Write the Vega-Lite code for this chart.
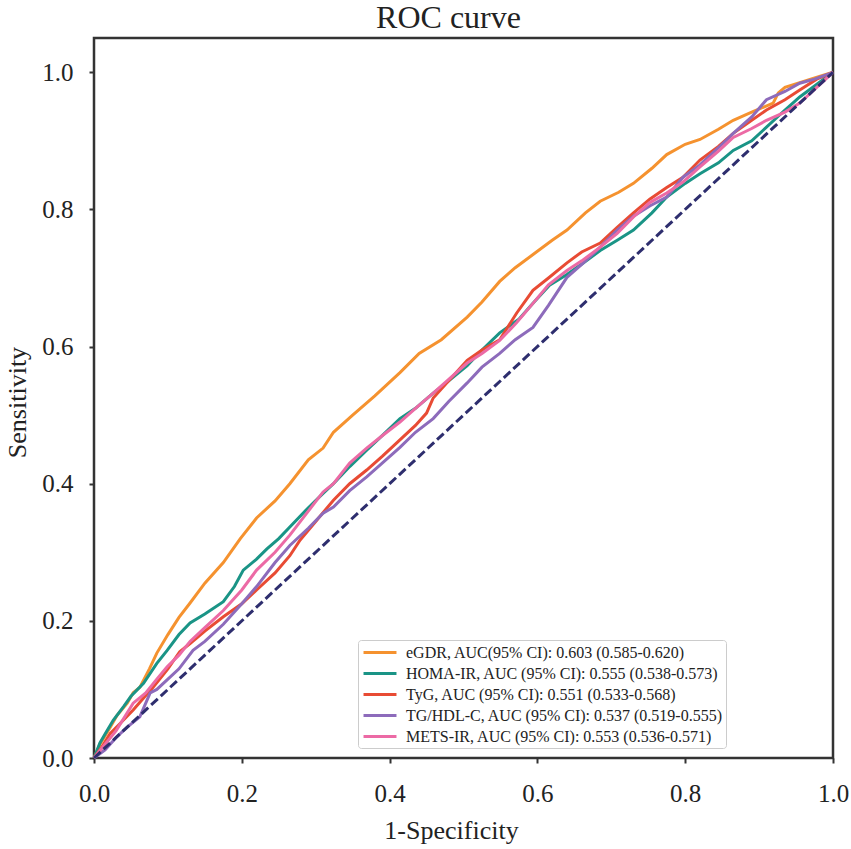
{
  "$schema": "https://vega.github.io/schema/vega-lite/v6.json",
  "autosize": {"type": "none"},
  "width": 739,
  "height": 720,
  "padding": {"left": 94, "top": 38, "right": 18, "bottom": 91},
  "background": "white",
  "title": {
    "text": "ROC curve",
    "font": "Liberation Serif",
    "fontSize": 32,
    "fontWeight": "normal",
    "color": "#222222",
    "anchor": "middle",
    "baseline": "top",
    "offset": 3,
    "dx": -15
  },
  "datasets": {
    "labels": [
      {"m": "eGDR", "label": "eGDR, AUC(95% CI): 0.603 (0.585-0.620)"},
      {"m": "HOMA-IR", "label": "HOMA-IR, AUC (95% CI): 0.555 (0.538-0.573)"},
      {"m": "TyG", "label": "TyG, AUC (95% CI): 0.551 (0.533-0.568)"},
      {"m": "TG/HDL-C", "label": "TG/HDL-C, AUC (95% CI): 0.537 (0.519-0.555)"},
      {"m": "METS-IR", "label": "METS-IR, AUC (95% CI): 0.553 (0.536-0.571)"}
    ],
    "roc": [
      {"m": "eGDR", "x": 0, "y": 0}, {"m": "eGDR", "x": 0.008, "y": 0.02}, {"m": "eGDR", "x": 0.022, "y": 0.045},
      {"m": "eGDR", "x": 0.031, "y": 0.062}, {"m": "eGDR", "x": 0.045, "y": 0.08}, {"m": "eGDR", "x": 0.053, "y": 0.095},
      {"m": "eGDR", "x": 0.062, "y": 0.103}, {"m": "eGDR", "x": 0.075, "y": 0.13}, {"m": "eGDR", "x": 0.085, "y": 0.153},
      {"m": "eGDR", "x": 0.1, "y": 0.18}, {"m": "eGDR", "x": 0.115, "y": 0.205}, {"m": "eGDR", "x": 0.13, "y": 0.226},
      {"m": "eGDR", "x": 0.15, "y": 0.255}, {"m": "eGDR", "x": 0.175, "y": 0.285}, {"m": "eGDR", "x": 0.198, "y": 0.32},
      {"m": "eGDR", "x": 0.22, "y": 0.35}, {"m": "eGDR", "x": 0.245, "y": 0.375}, {"m": "eGDR", "x": 0.265, "y": 0.4},
      {"m": "eGDR", "x": 0.29, "y": 0.435}, {"m": "eGDR", "x": 0.31, "y": 0.452}, {"m": "eGDR", "x": 0.324, "y": 0.475},
      {"m": "eGDR", "x": 0.35, "y": 0.5}, {"m": "eGDR", "x": 0.38, "y": 0.528}, {"m": "eGDR", "x": 0.414, "y": 0.562},
      {"m": "eGDR", "x": 0.44, "y": 0.59}, {"m": "eGDR", "x": 0.47, "y": 0.61}, {"m": "eGDR", "x": 0.505, "y": 0.643},
      {"m": "eGDR", "x": 0.525, "y": 0.665}, {"m": "eGDR", "x": 0.549, "y": 0.695}, {"m": "eGDR", "x": 0.57, "y": 0.715},
      {"m": "eGDR", "x": 0.595, "y": 0.735}, {"m": "eGDR", "x": 0.62, "y": 0.755}, {"m": "eGDR", "x": 0.64, "y": 0.77},
      {"m": "eGDR", "x": 0.665, "y": 0.795}, {"m": "eGDR", "x": 0.685, "y": 0.812}, {"m": "eGDR", "x": 0.71, "y": 0.825},
      {"m": "eGDR", "x": 0.73, "y": 0.838}, {"m": "eGDR", "x": 0.755, "y": 0.86}, {"m": "eGDR", "x": 0.775, "y": 0.88},
      {"m": "eGDR", "x": 0.8, "y": 0.895}, {"m": "eGDR", "x": 0.82, "y": 0.902}, {"m": "eGDR", "x": 0.845, "y": 0.917},
      {"m": "eGDR", "x": 0.865, "y": 0.93}, {"m": "eGDR", "x": 0.89, "y": 0.942}, {"m": "eGDR", "x": 0.919, "y": 0.955},
      {"m": "eGDR", "x": 0.926, "y": 0.97}, {"m": "eGDR", "x": 0.935, "y": 0.978}, {"m": "eGDR", "x": 0.955, "y": 0.985},
      {"m": "eGDR", "x": 0.973, "y": 0.991}, {"m": "eGDR", "x": 1, "y": 1},

      {"m": "HOMA-IR", "x": 0, "y": 0}, {"m": "HOMA-IR", "x": 0.008, "y": 0.022}, {"m": "HOMA-IR", "x": 0.015, "y": 0.035},
      {"m": "HOMA-IR", "x": 0.026, "y": 0.055}, {"m": "HOMA-IR", "x": 0.04, "y": 0.075}, {"m": "HOMA-IR", "x": 0.05, "y": 0.09},
      {"m": "HOMA-IR", "x": 0.067, "y": 0.109}, {"m": "HOMA-IR", "x": 0.085, "y": 0.138}, {"m": "HOMA-IR", "x": 0.099, "y": 0.157},
      {"m": "HOMA-IR", "x": 0.115, "y": 0.18}, {"m": "HOMA-IR", "x": 0.13, "y": 0.197}, {"m": "HOMA-IR", "x": 0.15, "y": 0.21},
      {"m": "HOMA-IR", "x": 0.175, "y": 0.228}, {"m": "HOMA-IR", "x": 0.19, "y": 0.25}, {"m": "HOMA-IR", "x": 0.202, "y": 0.274},
      {"m": "HOMA-IR", "x": 0.22, "y": 0.29}, {"m": "HOMA-IR", "x": 0.234, "y": 0.305}, {"m": "HOMA-IR", "x": 0.25, "y": 0.32},
      {"m": "HOMA-IR", "x": 0.265, "y": 0.337}, {"m": "HOMA-IR", "x": 0.29, "y": 0.365}, {"m": "HOMA-IR", "x": 0.31, "y": 0.386},
      {"m": "HOMA-IR", "x": 0.324, "y": 0.4}, {"m": "HOMA-IR", "x": 0.346, "y": 0.425}, {"m": "HOMA-IR", "x": 0.369, "y": 0.449},
      {"m": "HOMA-IR", "x": 0.39, "y": 0.47}, {"m": "HOMA-IR", "x": 0.414, "y": 0.495}, {"m": "HOMA-IR", "x": 0.435, "y": 0.51},
      {"m": "HOMA-IR", "x": 0.459, "y": 0.532}, {"m": "HOMA-IR", "x": 0.48, "y": 0.55}, {"m": "HOMA-IR", "x": 0.505, "y": 0.572},
      {"m": "HOMA-IR", "x": 0.525, "y": 0.595}, {"m": "HOMA-IR", "x": 0.549, "y": 0.62}, {"m": "HOMA-IR", "x": 0.575, "y": 0.64},
      {"m": "HOMA-IR", "x": 0.594, "y": 0.663}, {"m": "HOMA-IR", "x": 0.617, "y": 0.69}, {"m": "HOMA-IR", "x": 0.64, "y": 0.705},
      {"m": "HOMA-IR", "x": 0.662, "y": 0.722}, {"m": "HOMA-IR", "x": 0.685, "y": 0.74}, {"m": "HOMA-IR", "x": 0.708, "y": 0.755},
      {"m": "HOMA-IR", "x": 0.73, "y": 0.77}, {"m": "HOMA-IR", "x": 0.755, "y": 0.795}, {"m": "HOMA-IR", "x": 0.775, "y": 0.818},
      {"m": "HOMA-IR", "x": 0.8, "y": 0.838}, {"m": "HOMA-IR", "x": 0.82, "y": 0.852}, {"m": "HOMA-IR", "x": 0.845, "y": 0.868},
      {"m": "HOMA-IR", "x": 0.865, "y": 0.886}, {"m": "HOMA-IR", "x": 0.89, "y": 0.9}, {"m": "HOMA-IR", "x": 0.91, "y": 0.92},
      {"m": "HOMA-IR", "x": 0.935, "y": 0.945}, {"m": "HOMA-IR", "x": 0.955, "y": 0.964}, {"m": "HOMA-IR", "x": 0.975, "y": 0.98},
      {"m": "HOMA-IR", "x": 1, "y": 1},

      {"m": "TyG", "x": 0, "y": 0}, {"m": "TyG", "x": 0.01, "y": 0.015}, {"m": "TyG", "x": 0.022, "y": 0.036},
      {"m": "TyG", "x": 0.035, "y": 0.05}, {"m": "TyG", "x": 0.053, "y": 0.07}, {"m": "TyG", "x": 0.065, "y": 0.085},
      {"m": "TyG", "x": 0.08, "y": 0.103}, {"m": "TyG", "x": 0.1, "y": 0.13}, {"m": "TyG", "x": 0.116, "y": 0.155},
      {"m": "TyG", "x": 0.13, "y": 0.167}, {"m": "TyG", "x": 0.15, "y": 0.185}, {"m": "TyG", "x": 0.175, "y": 0.206},
      {"m": "TyG", "x": 0.2, "y": 0.225}, {"m": "TyG", "x": 0.22, "y": 0.245}, {"m": "TyG", "x": 0.245, "y": 0.27},
      {"m": "TyG", "x": 0.265, "y": 0.295}, {"m": "TyG", "x": 0.279, "y": 0.318}, {"m": "TyG", "x": 0.3, "y": 0.345},
      {"m": "TyG", "x": 0.324, "y": 0.376}, {"m": "TyG", "x": 0.346, "y": 0.4}, {"m": "TyG", "x": 0.369, "y": 0.42},
      {"m": "TyG", "x": 0.39, "y": 0.44}, {"m": "TyG", "x": 0.414, "y": 0.464}, {"m": "TyG", "x": 0.435, "y": 0.485},
      {"m": "TyG", "x": 0.45, "y": 0.503}, {"m": "TyG", "x": 0.459, "y": 0.525}, {"m": "TyG", "x": 0.48, "y": 0.55},
      {"m": "TyG", "x": 0.505, "y": 0.58}, {"m": "TyG", "x": 0.525, "y": 0.595}, {"m": "TyG", "x": 0.549, "y": 0.61},
      {"m": "TyG", "x": 0.572, "y": 0.649}, {"m": "TyG", "x": 0.594, "y": 0.682}, {"m": "TyG", "x": 0.615, "y": 0.7},
      {"m": "TyG", "x": 0.64, "y": 0.722}, {"m": "TyG", "x": 0.66, "y": 0.738}, {"m": "TyG", "x": 0.685, "y": 0.751},
      {"m": "TyG", "x": 0.708, "y": 0.774}, {"m": "TyG", "x": 0.73, "y": 0.795}, {"m": "TyG", "x": 0.752, "y": 0.815},
      {"m": "TyG", "x": 0.775, "y": 0.832}, {"m": "TyG", "x": 0.797, "y": 0.847}, {"m": "TyG", "x": 0.82, "y": 0.872},
      {"m": "TyG", "x": 0.845, "y": 0.892}, {"m": "TyG", "x": 0.865, "y": 0.911}, {"m": "TyG", "x": 0.89, "y": 0.93},
      {"m": "TyG", "x": 0.91, "y": 0.945}, {"m": "TyG", "x": 0.935, "y": 0.96}, {"m": "TyG", "x": 0.955, "y": 0.974},
      {"m": "TyG", "x": 0.978, "y": 0.99}, {"m": "TyG", "x": 1, "y": 1},

      {"m": "TG/HDL-C", "x": 0, "y": 0}, {"m": "TG/HDL-C", "x": 0.015, "y": 0.012}, {"m": "TG/HDL-C", "x": 0.03, "y": 0.03},
      {"m": "TG/HDL-C", "x": 0.045, "y": 0.045}, {"m": "TG/HDL-C", "x": 0.062, "y": 0.06}, {"m": "TG/HDL-C", "x": 0.076, "y": 0.095},
      {"m": "TG/HDL-C", "x": 0.085, "y": 0.1}, {"m": "TG/HDL-C", "x": 0.1, "y": 0.115}, {"m": "TG/HDL-C", "x": 0.115, "y": 0.13},
      {"m": "TG/HDL-C", "x": 0.134, "y": 0.157}, {"m": "TG/HDL-C", "x": 0.15, "y": 0.17}, {"m": "TG/HDL-C", "x": 0.175, "y": 0.195},
      {"m": "TG/HDL-C", "x": 0.2, "y": 0.225}, {"m": "TG/HDL-C", "x": 0.22, "y": 0.25}, {"m": "TG/HDL-C", "x": 0.245, "y": 0.285},
      {"m": "TG/HDL-C", "x": 0.265, "y": 0.31}, {"m": "TG/HDL-C", "x": 0.29, "y": 0.335}, {"m": "TG/HDL-C", "x": 0.31, "y": 0.357},
      {"m": "TG/HDL-C", "x": 0.324, "y": 0.366}, {"m": "TG/HDL-C", "x": 0.346, "y": 0.39}, {"m": "TG/HDL-C", "x": 0.369, "y": 0.41},
      {"m": "TG/HDL-C", "x": 0.39, "y": 0.43}, {"m": "TG/HDL-C", "x": 0.414, "y": 0.453}, {"m": "TG/HDL-C", "x": 0.435, "y": 0.475},
      {"m": "TG/HDL-C", "x": 0.459, "y": 0.495}, {"m": "TG/HDL-C", "x": 0.48, "y": 0.52}, {"m": "TG/HDL-C", "x": 0.505, "y": 0.547},
      {"m": "TG/HDL-C", "x": 0.525, "y": 0.57}, {"m": "TG/HDL-C", "x": 0.549, "y": 0.59}, {"m": "TG/HDL-C", "x": 0.57, "y": 0.61},
      {"m": "TG/HDL-C", "x": 0.594, "y": 0.628}, {"m": "TG/HDL-C", "x": 0.615, "y": 0.66}, {"m": "TG/HDL-C", "x": 0.64, "y": 0.701},
      {"m": "TG/HDL-C", "x": 0.66, "y": 0.72}, {"m": "TG/HDL-C", "x": 0.685, "y": 0.745}, {"m": "TG/HDL-C", "x": 0.708, "y": 0.77},
      {"m": "TG/HDL-C", "x": 0.73, "y": 0.79}, {"m": "TG/HDL-C", "x": 0.752, "y": 0.805}, {"m": "TG/HDL-C", "x": 0.775, "y": 0.818},
      {"m": "TG/HDL-C", "x": 0.797, "y": 0.847}, {"m": "TG/HDL-C", "x": 0.82, "y": 0.865}, {"m": "TG/HDL-C", "x": 0.845, "y": 0.89},
      {"m": "TG/HDL-C", "x": 0.865, "y": 0.911}, {"m": "TG/HDL-C", "x": 0.89, "y": 0.935}, {"m": "TG/HDL-C", "x": 0.91, "y": 0.96},
      {"m": "TG/HDL-C", "x": 0.935, "y": 0.972}, {"m": "TG/HDL-C", "x": 0.955, "y": 0.984}, {"m": "TG/HDL-C", "x": 0.975, "y": 0.99},
      {"m": "TG/HDL-C", "x": 1, "y": 1},

      {"m": "METS-IR", "x": 0, "y": 0}, {"m": "METS-IR", "x": 0.015, "y": 0.02}, {"m": "METS-IR", "x": 0.03, "y": 0.04},
      {"m": "METS-IR", "x": 0.053, "y": 0.08}, {"m": "METS-IR", "x": 0.07, "y": 0.095}, {"m": "METS-IR", "x": 0.085, "y": 0.115},
      {"m": "METS-IR", "x": 0.099, "y": 0.133}, {"m": "METS-IR", "x": 0.115, "y": 0.15}, {"m": "METS-IR", "x": 0.13, "y": 0.17},
      {"m": "METS-IR", "x": 0.15, "y": 0.19}, {"m": "METS-IR", "x": 0.175, "y": 0.215}, {"m": "METS-IR", "x": 0.2, "y": 0.245},
      {"m": "METS-IR", "x": 0.22, "y": 0.274}, {"m": "METS-IR", "x": 0.245, "y": 0.3}, {"m": "METS-IR", "x": 0.265, "y": 0.325},
      {"m": "METS-IR", "x": 0.29, "y": 0.36}, {"m": "METS-IR", "x": 0.31, "y": 0.388}, {"m": "METS-IR", "x": 0.324, "y": 0.4},
      {"m": "METS-IR", "x": 0.346, "y": 0.43}, {"m": "METS-IR", "x": 0.369, "y": 0.452}, {"m": "METS-IR", "x": 0.39, "y": 0.47},
      {"m": "METS-IR", "x": 0.414, "y": 0.49}, {"m": "METS-IR", "x": 0.435, "y": 0.51}, {"m": "METS-IR", "x": 0.459, "y": 0.532},
      {"m": "METS-IR", "x": 0.48, "y": 0.552}, {"m": "METS-IR", "x": 0.505, "y": 0.576}, {"m": "METS-IR", "x": 0.525, "y": 0.59},
      {"m": "METS-IR", "x": 0.549, "y": 0.609}, {"m": "METS-IR", "x": 0.572, "y": 0.635}, {"m": "METS-IR", "x": 0.594, "y": 0.663},
      {"m": "METS-IR", "x": 0.615, "y": 0.69}, {"m": "METS-IR", "x": 0.64, "y": 0.711}, {"m": "METS-IR", "x": 0.66, "y": 0.725},
      {"m": "METS-IR", "x": 0.685, "y": 0.745}, {"m": "METS-IR", "x": 0.708, "y": 0.765}, {"m": "METS-IR", "x": 0.73, "y": 0.789},
      {"m": "METS-IR", "x": 0.752, "y": 0.81}, {"m": "METS-IR", "x": 0.775, "y": 0.824}, {"m": "METS-IR", "x": 0.797, "y": 0.84},
      {"m": "METS-IR", "x": 0.82, "y": 0.862}, {"m": "METS-IR", "x": 0.845, "y": 0.885}, {"m": "METS-IR", "x": 0.865, "y": 0.905},
      {"m": "METS-IR", "x": 0.89, "y": 0.918}, {"m": "METS-IR", "x": 0.91, "y": 0.93}, {"m": "METS-IR", "x": 0.935, "y": 0.942},
      {"m": "METS-IR", "x": 0.955, "y": 0.955}, {"m": "METS-IR", "x": 0.978, "y": 0.978}, {"m": "METS-IR", "x": 1, "y": 1}
    ],
    "chance": [{"x": 0, "y": 0}, {"x": 1, "y": 1}]
  },
  "encoding": {
    "x": {
      "field": "x",
      "type": "quantitative",
      "scale": {"domain": [0, 1], "nice": false, "zero": false},
      "axis": {
        "title": "1-Specificity",
        "values": [0, 0.2, 0.4, 0.6, 0.8, 1],
        "format": ".1f",
        "labelPadding": 18,
        "titleY": 80,
        "titleX": 357,
        "titleAlign": "center",
        "titleBaseline": "alphabetic"
      }
    },
    "y": {
      "field": "y",
      "type": "quantitative",
      "scale": {"domain": [0, 1.05], "nice": false, "zero": false},
      "axis": {
        "title": "Sensitivity",
        "values": [0, 0.2, 0.4, 0.6, 0.8, 1],
        "format": ".1f",
        "labelPadding": 16,
        "titleX": -69,
        "titleY": 364,
        "titleAngle": -90,
        "titleAlign": "center",
        "titleBaseline": "alphabetic"
      }
    }
  },
  "layer": [
    {
      "data": {"name": "roc"},
      "transform": [
        {"lookup": "m", "from": {"data": {"name": "labels"}, "key": "m", "fields": ["label"]}}
      ],
      "mark": {"type": "line", "strokeWidth": 3, "interpolate": "linear"},
      "encoding": {
        "color": {
          "field": "label",
          "type": "nominal",
          "scale": {
            "domain": [
              "eGDR, AUC(95% CI): 0.603 (0.585-0.620)",
              "HOMA-IR, AUC (95% CI): 0.555 (0.538-0.573)",
              "TyG, AUC (95% CI): 0.551 (0.533-0.568)",
              "TG/HDL-C, AUC (95% CI): 0.537 (0.519-0.555)",
              "METS-IR, AUC (95% CI): 0.553 (0.536-0.571)"
            ],
            "range": ["#F5922F", "#1A9486", "#E84B34", "#8D6BBB", "#EC6AA5"]
          },
          "legend": {
            "title": null,
            "orient": "none",
            "legendX": 264,
            "legendY": 602,
            "symbolType": "M-2.06,0H2.06",
            "symbolSize": 256,
            "symbolStrokeWidth": 3,
            "labelFont": "Liberation Serif",
            "labelFontSize": 16,
            "labelColor": "#222222",
            "labelLimit": 1000,
            "padding": 3,
            "symbolOffset": 9.5,
            "labelOffset": 16.5,
            "rowPadding": 3,
            "fillColor": "white",
            "strokeColor": "#cccccc",
            "cornerRadius": 3,
            "encode": {
              "legend": {
                "update": {
                  "width": {"value": 469}
                }
              }
            }
          }
        }
      }
    },
    {
      "data": {"name": "chance"},
      "mark": {"type": "line", "color": "#2E2E6E", "strokeWidth": 3, "strokeDash": [9, 4]},
      "encoding": {}
    }
  ],
  "config": {
    "view": {"stroke": "#333333", "strokeWidth": 2.5},
    "font": "Liberation Serif",
    "axis": {
      "grid": false,
      "domain": false,
      "ticks": true,
      "tickSize": 5,
      "tickWidth": 2,
      "tickColor": "#333333",
      "labelFont": "Liberation Serif",
      "labelFontSize": 25,
      "labelColor": "#222222",
      "labelOverlap": false,
      "labelFlush": false,
      "titleFont": "Liberation Serif",
      "titleFontSize": 26,
      "titleFontWeight": "normal",
      "titleColor": "#222222"
    }
  }
}
